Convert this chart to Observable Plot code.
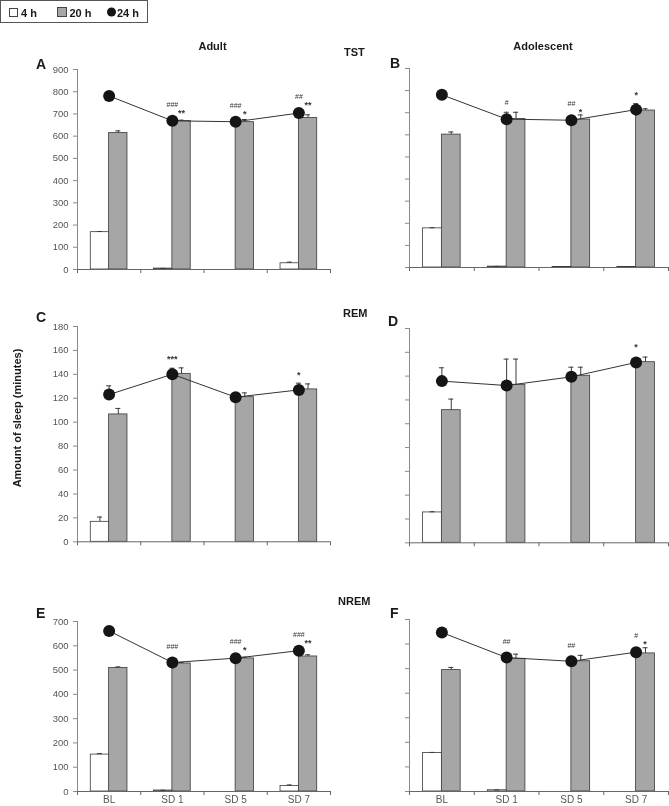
<!DOCTYPE html>
<html><head><meta charset="utf-8">
<script src="https://cdn.jsdelivr.net/npm/d3@7"></script>
<script src="https://cdn.jsdelivr.net/npm/@observablehq/plot@0.6"></script>
<style>
body{margin:0;background:#fff;}
#page{position:relative;width:669px;height:806px;overflow:hidden;background:#fff;}
.panel{position:absolute;will-change:transform;}
#overlay{position:absolute;left:0;top:0;z-index:2;pointer-events:none;}
</style></head><body><div id="page"></div>
<script>
// ---------- DATA ----------
const categories = ["BL", "SD 1", "SD 5", "SD 7"];
const seriesNames = ["4 h", "20 h", "24 h"];

// A: Adult TST
const adultTST_4h = [168, 4, 0, 28];
const adultTST_4hErr = [3, 1, 0, 5];
const adultTST_20h = [614, 668, 663, 682];
const adultTST_20hErr = [10, 4, 12, 14];
const adultTST_24h = [781, 669, 665, 704];
const adultTST_24hErr = [6, 4, 6, 8];
const adultTST_hash = ["", "###", "###", "##"];
const adultTST_star = ["", "**", "*", "**"];

// B: Adolescent TST
const adolTST_4h = [177, 4, 2, 2];
const adolTST_4hErr = [3, 1, 0, 0];
const adolTST_20h = [601, 672, 669, 710];
const adolTST_20hErr = [12, 30, 21, 8];
const adolTST_24h = [781, 671, 666, 714];
const adolTST_24hErr = [6, 31, 8, 27];
const adolTST_hash = ["", "#", "##", ""];
const adolTST_star = ["", "", "*", "*"];

// C: Adult REM
const adultREM_4h = [16.7, 0, 0, 0];
const adultREM_4hErr = [4, 0, 0, 0];
const adultREM_20h = [106.5, 140.4, 120.9, 127.4];
const adultREM_20hErr = [5, 5, 3.6, 4.6];
const adultREM_24h = [123.1, 140.1, 120.9, 127];
const adultREM_24hErr = [7.3, 5, 2, 5.6];
const adultREM_hash = ["", "", "", ""];
const adultREM_star = ["", "***", "", "*"];

// D: Adolescent REM
const adolREM_4h = [25.5, 0, 0, 0];
const adolREM_4hErr = [0.6, 0, 0, 0];
const adolREM_20h = [111.4, 132.7, 140.3, 151.7];
const adolREM_20hErr = [9.3, 21.6, 7.2, 4.3];
const adolREM_24h = [135.8, 132.1, 139.4, 151.5];
const adolREM_24hErr = [11.2, 22.2, 8.1, 3];
const adolREM_hash = ["", "", "", ""];
const adolREM_star = ["", "", "", "*"];

// E: Adult NREM
const adultNREM_4h = [152, 4, 0, 23];
const adultNREM_4hErr = [4, 1, 0, 4];
const adultNREM_20h = [509, 527, 548, 556];
const adultNREM_20hErr = [4, 4, 5, 7];
const adultNREM_24h = [661, 531, 549, 580];
const adultNREM_24hErr = [5, 5, 5, 5];
const adultNREM_hash = ["", "###", "###", "###"];
const adultNREM_star = ["", "", "*", "**"];

// F: Adolescent NREM
const adolNREM_4h = [157, 5, 0, 0];
const adolNREM_4hErr = [2, 1, 0, 0];
const adolNREM_20h = [494, 540, 530, 562];
const adolNREM_20hErr = [11, 19, 24, 23];
const adolNREM_24h = [647, 545, 530, 567];
const adolNREM_24hErr = [5, 19, 20, 18];
const adolNREM_hash = ["", "##", "##", "#"];
const adolNREM_star = ["", "", "", "*"];

const tstTicks = [0, 100, 200, 300, 400, 500, 600, 700, 800, 900];
const remTicks = [0, 20, 40, 60, 80, 100, 120, 140, 160, 180];
const nremTicks = [0, 100, 200, 300, 400, 500, 600, 700];

// ---------- STYLE ----------
const SANS = '"Liberation Sans", Arial, sans-serif';
const GRAY = "#a6a6a6", OUTLINE = "#3a3a3a", AXIS = "#8a8a8a", BASE = "#666", LABEL = "#555";
const page = document.getElementById("page");

function panel(d, g) {
  const rows = categories.map((c, i) => ({
    cat: c, h4: d.h4[i], e4: d.e4[i], h20: d.h20[i], e20: d.e20[i],
    h24: d.h24[i], e24: d.e24[i], hash: d.hash[i], star: d.star[i]
  }));
  const height = g.mt + g.plotH + g.mb;
  const bw = (g.width - g.ml - g.mr) / categories.length;
  const barW = bw * 0.29;
  const k = g.plotH / d.ticks[d.ticks.length - 1];
  rows.forEach(r => {
    r.anchor = Math.max(r.h24 + 7 / k, r.h24 + r.e24, r.h20 + r.e20);
  });
  const capW = 2.5;
  const marks = [
    Plot.barY(rows, {x: "cat", y: "h20", fill: GRAY, stroke: OUTLINE, strokeWidth: 0.8,
      insetLeft: bw / 2, insetRight: bw / 2 - barW}),
    Plot.barY(rows.filter(r => r.h4 > 0), {x: "cat", y: "h4", fill: "#fff", stroke: OUTLINE, strokeWidth: 0.8,
      insetLeft: bw / 2 - barW, insetRight: bw / 2}),
    // error bars 20 h
    Plot.ruleX(rows.filter(r => r.e20 > 0), {x: "cat", y1: "h20", y2: r => r.h20 + r.e20, dx: barW / 2, stroke: OUTLINE, strokeWidth: 1}),
    Plot.tickY(rows.filter(r => r.e20 > 0), {x: "cat", y: r => r.h20 + r.e20, stroke: OUTLINE, strokeWidth: 1,
      insetLeft: bw / 2 + barW / 2 - capW, insetRight: bw / 2 - barW / 2 - capW}),
    // error bars 4 h
    Plot.ruleX(rows.filter(r => r.e4 > 0), {x: "cat", y1: "h4", y2: r => r.h4 + r.e4, dx: -barW / 2, stroke: OUTLINE, strokeWidth: 1}),
    Plot.tickY(rows.filter(r => r.e4 > 0), {x: "cat", y: r => r.h4 + r.e4, stroke: OUTLINE, strokeWidth: 1,
      insetLeft: bw / 2 - barW / 2 - capW, insetRight: bw / 2 + barW / 2 - capW}),
    // baseline & axis
    Plot.ruleY([0], {stroke: BASE, strokeWidth: 1}),
    Plot.ruleX([categories[0]], {dx: -bw / 2, stroke: AXIS, strokeWidth: 1}),
    Plot.ruleX(categories, {x: c => c, y1: 0, y2: 0, insetBottom: -4, dx: -bw / 2, stroke: BASE}),
    Plot.ruleX([categories[categories.length - 1]], {x: c => c, y1: 0, y2: 0, insetBottom: -4, dx: bw / 2, stroke: BASE}),
    Plot.axisY({ticks: d.ticks, tickSize: 4, tickPadding: 5, stroke: AXIS, fill: LABEL, fontSize: 9.5,
      fontFamily: SANS, label: null, tickFormat: g.showY ? (v => v) : (() => "")}),
    // 24 h line, errors and dots
    Plot.ruleX(rows.filter(r => r.e24 > 0), {x: "cat", y1: "h24", y2: r => r.h24 + r.e24, stroke: OUTLINE, strokeWidth: 1}),
    Plot.tickY(rows.filter(r => r.e24 > 0), {x: "cat", y: r => r.h24 + r.e24, stroke: OUTLINE, strokeWidth: 1,
      insetLeft: bw / 2 - capW, insetRight: bw / 2 - capW}),
    Plot.line(rows, {x: "cat", y: "h24", stroke: "#333", strokeWidth: 1}),
    Plot.dot(rows, {x: "cat", y: "h24", r: 6, fill: "#151515", stroke: "none"}),
    // significance marks
    Plot.text(rows.filter(r => r.hash), {x: "cat", y: "anchor", text: "hash", dy: -9, fontSize: 7, fill: "#333", fontFamily: SANS}),
    Plot.text(rows.filter(r => r.star && r.hash), {x: "cat", y: "anchor", text: "star", dx: 9, dy: -1, fontSize: 9, fontWeight: "bold", fill: "#333", fontFamily: SANS}),
    Plot.text(rows.filter(r => r.star && !r.hash), {x: "cat", y: "anchor", text: "star", dy: -8, fontSize: 9, fontWeight: "bold", fill: "#333", fontFamily: SANS})
  ];
  if (g.showX) marks.push(Plot.axisX({tickSize: 0, tickPadding: 4, fill: LABEL, fontSize: 10, fontFamily: SANS, label: null}));
  const chart = Plot.plot({
    width: g.width, height,
    marginLeft: g.ml, marginRight: g.mr, marginTop: g.mt, marginBottom: g.mb,
    style: {background: "transparent", overflow: "visible", fontFamily: SANS},
    x: {type: "band", domain: categories, padding: 0, round: false, label: null, axis: g.showX ? undefined : null},
    y: {domain: [0, d.ticks[d.ticks.length - 1]], nice: false, label: null},
    marks
  });
  chart.classList.add("panel");
  chart.style.left = g.left + "px";
  chart.style.top = g.top + "px";
  page.appendChild(chart);
}

const L = {left: 0, width: 335, ml: 77, mr: 5, mt: 12, showY: true};
const R = {left: 335, width: 334, ml: 74, mr: 1, mt: 12, showY: false};

panel({h4: adultTST_4h, e4: adultTST_4hErr, h20: adultTST_20h, e20: adultTST_20hErr, h24: adultTST_24h, e24: adultTST_24hErr, hash: adultTST_hash, star: adultTST_star, ticks: tstTicks},
  {...L, top: 56.7, plotH: 200, mb: 8, showX: false});
panel({h4: adolTST_4h, e4: adolTST_4hErr, h20: adolTST_20h, e20: adolTST_20hErr, h24: adolTST_24h, e24: adolTST_24hErr, hash: adolTST_hash, star: adolTST_star, ticks: tstTicks},
  {...R, top: 56, plotH: 199, mb: 8, showX: false});
panel({h4: adultREM_4h, e4: adultREM_4hErr, h20: adultREM_20h, e20: adultREM_20hErr, h24: adultREM_24h, e24: adultREM_24hErr, hash: adultREM_hash, star: adultREM_star, ticks: remTicks},
  {...L, top: 314, plotH: 215.3, mb: 8, showX: false});
panel({h4: adolREM_4h, e4: adolREM_4hErr, h20: adolREM_20h, e20: adolREM_20hErr, h24: adolREM_24h, e24: adolREM_24hErr, hash: adolREM_hash, star: adolREM_star, ticks: remTicks},
  {...R, top: 316, plotH: 214.3, mb: 8, showX: false});
panel({h4: adultNREM_4h, e4: adultNREM_4hErr, h20: adultNREM_20h, e20: adultNREM_20hErr, h24: adultNREM_24h, e24: adultNREM_24hErr, hash: adultNREM_hash, star: adultNREM_star, ticks: nremTicks},
  {...L, top: 609, plotH: 170, mb: 15, showX: true});
panel({h4: adolNREM_4h, e4: adolNREM_4hErr, h20: adolNREM_20h, e20: adolNREM_20hErr, h24: adolNREM_24h, e24: adolNREM_24hErr, hash: adolNREM_hash, star: adolNREM_star, ticks: nremTicks},
  {...R, top: 607.3, plotH: 172, mb: 14.7, showX: true});

// ---------- OVERLAY TEXT & LEGEND ----------
const svg = d3.select(page).append("svg").attr("id", "overlay").attr("width", 669).attr("height", 806);
function txt(x, y, s, size, anchor, extra) {
  const t = svg.append("text").attr("x", x).attr("y", y).text(s)
    .attr("font-size", size).attr("font-family", SANS).attr("font-weight", "bold")
    .attr("text-anchor", anchor || "start").attr("fill", "#1a1a1a");
  if (extra) extra(t);
  return t;
}
// legend
svg.append("rect").attr("x", 0.5).attr("y", 0.5).attr("width", 147).attr("height", 22).attr("fill", "#fff").attr("stroke", "#555");
svg.append("rect").attr("x", 9.5).attr("y", 8.5).attr("width", 8).attr("height", 8).attr("fill", "#fff").attr("stroke", "#444");
txt(21, 16.5, seriesNames[0], 11);
svg.append("rect").attr("x", 57.5).attr("y", 7.5).attr("width", 9).attr("height", 9).attr("fill", GRAY).attr("stroke", "#444");
txt(69.5, 16.5, seriesNames[1], 11);
svg.append("circle").attr("cx", 111.5).attr("cy", 12).attr("r", 4.5).attr("fill", "#151515");
txt(117, 16.5, seriesNames[2], 11);

// column headers & section titles
txt(212.5, 50, "Adult", 11, "middle");
txt(543, 50, "Adolescent", 11, "middle");
txt(344, 56, "TST", 11);
txt(343, 317, "REM", 11);
txt(338, 605, "NREM", 11);
// panel letters
[["A", 36, 69], ["B", 390, 68], ["C", 36, 322], ["D", 388, 326], ["E", 36, 618], ["F", 390, 618]]
  .forEach(([s, x, y]) => txt(x, y, s, 14));
// y axis title
txt(21, 418, "Amount of sleep (minutes)", 11, "middle", t => t.attr("transform", "rotate(-90 21 418)"));
</script>
</body></html>
